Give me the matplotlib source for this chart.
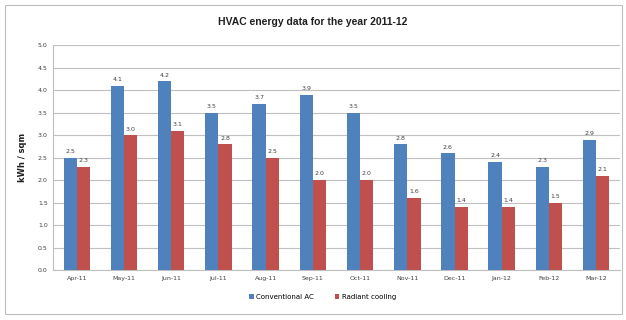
import numpy as np
import matplotlib.pyplot as plt
from matplotlib.patches import Rectangle

months = ['Apr-11', 'May-11', 'Jun-11', 'Jul-11', 'Aug-11', 'Sep-11',
          'Oct-11', 'Nov-11', 'Dec-11', 'Jan-12', 'Feb-12', 'Mar-12']
conventional_ac = [2.5, 4.1, 4.2, 3.5, 3.7, 3.9, 3.5, 2.8, 2.6, 2.4, 2.3, 2.9]
radiant_cooling = [2.3, 3.0, 3.1, 2.8, 2.5, 2.0, 2.0, 1.6, 1.4, 1.4, 1.5, 2.1]

blue = '#4F81BD'
red = '#C0504D'

fig = plt.figure(figsize=(6.26, 3.2), dpi=100)
ax = fig.add_axes([0.085, 0.156, 0.905, 0.703])

# outer chart border
fig.patches.append(Rectangle((0.008, 0.02), 0.985, 0.965, transform=fig.transFigure,
                             fill=False, edgecolor='#BFBFBF', linewidth=0.8))

x = np.arange(len(months))
w = 0.28
b1 = ax.bar(x - w / 2, conventional_ac, w, color=blue, label='Conventional AC', zorder=3)
b2 = ax.bar(x + w / 2, radiant_cooling, w, color=red, label='Radiant cooling', zorder=3)

for bars, vals in ((b1, conventional_ac), (b2, radiant_cooling)):
    for bar, v in zip(bars, vals):
        ax.text(bar.get_x() + bar.get_width() / 2, v + 0.08, f'{v:.1f}',
                ha='center', va='bottom', fontsize=4.5, color='#404040')

ax.set_xlim(-0.5, len(months) - 0.5)
ax.set_ylim(0, 5.0)
ax.set_yticks(np.arange(0, 5.01, 0.5))
ax.set_yticklabels([f'{t:.1f}' for t in np.arange(0, 5.01, 0.5)])
ax.set_xticks(x)
ax.set_xticklabels(months)
ax.tick_params(axis='both', labelsize=4.5, colors='#404040', length=0, pad=4)
ax.grid(axis='y', color='#BFBFBF', linewidth=0.8, zorder=0)

for s in ('top', 'right'):
    ax.spines[s].set_visible(False)
ax.spines['left'].set_color('#BFBFBF')
ax.spines['bottom'].set_color('#BFBFBF')

ax.set_ylabel('kWh / sqm', fontsize=6, fontweight='bold', color='#202020', labelpad=8)
fig.text(0.5, 0.93, 'HVAC energy data for the year 2011-12', ha='center', va='center',
         fontsize=7.5, fontweight='bold', color='#202020', family='Liberation Sans')

fig.legend(handles=[b1, b2], loc='center', bbox_to_anchor=(0.515, 0.072), ncol=2,
           frameon=False, fontsize=5, handlelength=0.7, handleheight=0.7,
           columnspacing=3, handletextpad=0.3)

fig.savefig('out.png', dpi=100)
